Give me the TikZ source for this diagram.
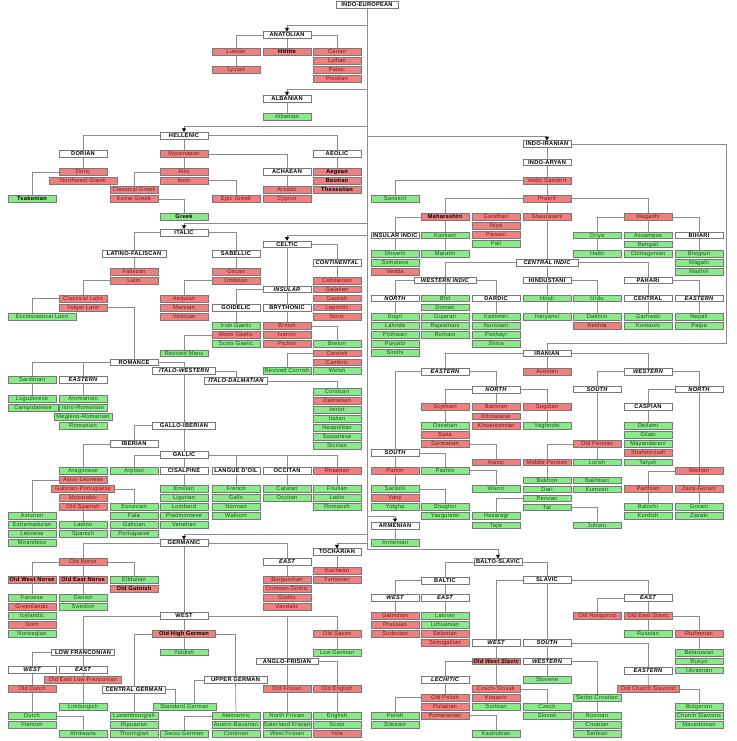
\documentclass[tikz,border=0pt]{standalone}
\usepackage{fontspec}
\setmainfont[LetterSpace=4]{Liberation Sans}
\usepackage{tikz}
\usetikzlibrary{arrows.meta,backgrounds}
\definecolor{linkgray}{RGB}{140,140,140}
\definecolor{boxline}{RGB}{120,120,120}
\definecolor{deadfill}{RGB}{240,128,128}
\definecolor{deadtext}{RGB}{128,20,20}
\definecolor{alivefill}{RGB}{136,234,136}
\definecolor{alivetext}{RGB}{20,90,20}

\tikzset{
  box/.style={draw=boxline, line width=0.6pt, rectangle, minimum width=48pt, minimum height=6.6pt, inner sep=0pt, text height=4.3pt, text depth=0.6pt, font=\fontsize{5.7}{6}\selectfont},
  hdr/.style={box, fill=white, text=black, font=\fontsize{5.7}{6}\selectfont\bfseries},
  hdri/.style={hdr, font=\fontsize{5.7}{6}\selectfont\bfseries\itshape},
  dead/.style={box, fill=deadfill, text=deadtext},
  alive/.style={box, fill=alivefill, text=alivetext},
  boldname/.style={text=black, font=\fontsize{5.7}{6}\selectfont\bfseries},
  link/.style={draw=linkgray, line width=0.7pt},
  branch/.style={link, -{Triangle[length=3.5pt, width=4pt, color=black]}},
}

\begin{document}
\begin{tikzpicture}[x=1pt, y=-1pt]
	\useasboundingbox (0,0) rectangle (736,741);
	\node[hdr, minimum width=62pt] (ie) at (367,5) {INDO-EUROPEAN};

	% Anatolian, Albanian
	\node[hdr] (anatolian) at (287,35) {ANATOLIAN};
	\node[dead] (luwian) at (236,52) {Luwian};
	\node[dead] (lycian) at (236,70) {Lycian};
	\node[dead, boldname] (hittite) at (287,52) {Hittite};
	\node[dead] (carian) at (337,52) {Carian};
	\node[dead] (lydian) at (337,61) {Lydian};
	\node[dead] (palaic) at (337,70) {Palaic};
	\node[dead] (pisidian) at (337,79) {Pisidian};
	\node[hdr] (albanianb) at (287,99) {ALBANIAN};
	\node[alive] (albanian) at (287,117) {Albanian};

	% Hellenic
	\node[hdr] (hellenic) at (184,135.5) {HELLENIC};
	\node[hdr] (dorian) at (83,154) {DORIAN};
	\node[dead] (doric) at (83,172) {Doric};
	\node[dead, minimum width=68pt] (nwgreek) at (83,180.5) {Northwest Greek};
	\node[alive, boldname] (tsakonian) at (32,199) {Tsakonian};
	\node[dead] (mycenaean) at (184,154) {Mycenaean};
	\node[dead] (attic) at (184,172) {Attic};
	\node[dead] (ionic) at (184,180.5) {Ionic};
	\node[dead] (clgreek) at (134,190) {Classical Greek};
	\node[dead] (koine) at (134,199) {Koine Greek};
	\node[dead] (epic) at (236,199) {Epic Greek};
	\node[alive, boldname] (greek) at (184,217) {Greek};
	\node[hdr] (achaean) at (287,172) {ACHAEAN};
	\node[dead] (arcado) at (287,190) {Arcado};
	\node[dead] (cypriot) at (287,199) {Cypriot};
	\node[hdr] (aeolic) at (337,154) {AEOLIC};
	\node[dead, boldname] (aegean) at (337,172) {Aegean};
	\node[dead, boldname] (beotian) at (337,181) {Beotian};
	\node[dead, boldname] (thessalian) at (337,190) {Thessalian};

	% Italic
	\node[hdr] (italic) at (184,232.5) {ITALIC};
	\node[hdr, minimum width=64pt] (latfal) at (134,254) {LATINO-FALISCAN};
	\node[dead] (faliscan) at (134,272) {Faliscan};
	\node[dead] (latin) at (134,280.5) {Latin};
	\node[dead] (cllatin) at (83,298.5) {Classical Latin};
	\node[dead] (vlatin) at (83,307.5) {Vulgar Latin};
	\node[alive, minimum width=68pt] (eccl) at (42,317) {Ecclesiastical Latin};
	\node[hdr] (sabellic) at (236,254) {SABELLIC};
	\node[dead] (oscan) at (236,272) {Oscan};
	\node[dead] (umbrian) at (236,280.5) {Umbrian};
	\node[dead] (aequian) at (184,298.5) {Aequian};
	\node[dead] (marsian) at (184,307.5) {Marsian};
	\node[dead] (volscian) at (184,316.5) {Volscian};

	% Celtic
	\node[hdr] (celtic) at (287,244.3) {CELTIC};
	\node[hdri] (continental) at (337,262.7) {CONTINENTAL};
	\node[dead] (celtiberian) at (337,280.5) {Celtiberian};
	\node[dead] (galatian) at (337,289.3) {Galatian};
	\node[dead] (gaulish) at (337,298.3) {Gaulish};
	\node[dead] (lepontic) at (337,307.3) {Lepontic};
	\node[dead] (noric) at (337,316.5) {Noric};
	\node[hdri] (insular) at (287,289.3) {INSULAR};
	\node[hdr] (goidelic) at (236,307.7) {GOIDELIC};
	\node[alive] (irish) at (236,326) {Irish Gaelic};
	\node[dead] (manx) at (236,335) {Manx Gaelic};
	\node[alive] (scots) at (236,344) {Scots Gaelic};
	\node[alive] (revmanx) at (184,353.3) {Revived Manx};
	\node[hdr] (brythonic) at (287,307.7) {BRYTHONIC};
	\node[dead] (british) at (287,326) {British};
	\node[dead] (ivernic) at (287,335) {Ivernic};
	\node[dead] (pictish) at (287,344) {Pictish};
	\node[alive] (breton) at (337,344) {Breton};
	\node[dead] (cornish) at (337,353.3) {Cornish};
	\node[dead] (cumbric) at (337,362.3) {Cumbric};
	\node[alive] (welsh) at (337,371) {Welsh};
	\node[alive] (revcornish) at (287,371) {Revived Cornish};

	% Romance
	\node[hdr] (romance) at (134,362.3) {ROMANCE};
	\node[alive] (sardinian) at (32,380) {Sardinian};
	\node[alive] (logudorese) at (32,398.5) {Logudorese};
	\node[alive, minimum width=50pt] (campidanese) at (33,407.5) {Campidanese};
	\node[hdri] (roeastern) at (83,380) {EASTERN};
	\node[alive] (aromanian) at (83,398.5) {Aromanian};
	\node[alive] (istro) at (83,407.5) {Istro-Romanian};
	\node[alive, minimum width=58pt] (megleno) at (83,416.5) {Megleno-Romanian};
	\node[alive] (romanian) at (83,425.7) {Romanian};
	\node[hdri, minimum width=63pt] (italowest) at (184,371) {ITALO-WESTERN};
	\node[hdri, minimum width=63pt] (italodalm) at (236,381) {ITALO-DALMATIAN};
	\node[alive] (corsican) at (337,392) {Corsican};
	\node[dead] (dalmatian) at (337,401) {Dalmatian};
	\node[alive] (istriot) at (337,410) {Istriot};
	\node[alive] (italian) at (337,419) {Italian};
	\node[alive] (neapolitan) at (337,428) {Neapolitan};
	\node[alive] (sassarese) at (337,437) {Sassarese};
	\node[alive] (sicilian) at (337,446) {Sicilian};
	\node[hdr, minimum width=63pt] (galloib) at (184,425.7) {GALLO-IBERIAN};
	\node[hdr] (iberian) at (134,444) {IBERIAN};
	\node[alive] (aragonese) at (83,471) {Aragonese};
	\node[dead] (asturleon) at (83,480) {Astur-Leonese};
	\node[dead, minimum width=63pt] (galport) at (83,489) {Galician-Portuguese};
	\node[dead] (mozarabic) at (83,498) {Mozarabic};
	\node[dead] (oldspanish) at (83,507) {Old Spanish};
	\node[alive] (asturian) at (32,516) {Asturian};
	\node[alive] (extremaduran) at (32,525) {Extremaduran};
	\node[alive] (leonese) at (32,534) {Leonese};
	\node[alive] (mirandese) at (32,543) {Mirandese};
	\node[alive] (ladino) at (83,525) {Ladino};
	\node[alive] (spanish) at (83,534) {Spanish};
	\node[alive] (eonavian) at (134,507) {Eonavian};
	\node[alive] (fala) at (134,516) {Fala};
	\node[alive] (galician) at (134,525) {Galician};
	\node[alive] (portuguese) at (134,534) {Portuguese};
	\node[hdr] (gallic) at (184,455) {GALLIC};
	\node[alive] (arpitan) at (134,471) {Arpitan};
	\node[hdr] (cisalpine) at (184,471) {CISALPINE};
	\node[alive] (emilian) at (184,489) {Emilian};
	\node[alive] (ligurian) at (184,498) {Ligurian};
	\node[alive] (lombard) at (184,507) {Lombard};
	\node[alive] (piedmontese) at (184,516) {Piedmontese};
	\node[alive] (venetian) at (184,525) {Venetian};
	\node[hdr] (oil) at (236,471) {LANGUE D'OÏL};
	\node[alive] (french) at (236,489) {French};
	\node[alive] (gallo) at (236,498) {Gallo};
	\node[alive] (norman) at (236,507) {Norman};
	\node[alive] (walloon) at (236,516) {Walloon};
	\node[hdr] (occitanb) at (287,471) {OCCITAN};
	\node[alive] (catalan) at (287,489) {Catalan};
	\node[alive] (occitan) at (287,498) {Occitan};
	\node[dead] (rhaetian) at (337,471) {Rhaetian};
	\node[alive] (friulian) at (337,489) {Friulian};
	\node[alive] (ladin) at (337,498) {Ladin};
	\node[alive] (romansh) at (337,507) {Romansh};

	% Germanic, Tocharian
	\node[hdr] (germanic) at (184,543) {GERMANIC};
	\node[dead] (oldnorse) at (83,562) {Old Norse};
	\node[dead, boldname] (ownorse) at (32,580) {Old West Norse};
	\node[dead, boldname] (oenorse) at (83,580) {Old East Norse};
	\node[alive] (elfdalian) at (134,580) {Elfdalian};
	\node[dead, boldname] (oldgutnish) at (134,589) {Old Gutnish};
	\node[alive] (faroese) at (32,598) {Faroese};
	\node[dead] (greenlandic) at (32,607) {Greenlandic};
	\node[alive] (icelandic) at (32,616) {Icelandic};
	\node[dead] (norn) at (32,625) {Norn};
	\node[alive] (norwegian) at (32,634) {Norwegian};
	\node[alive] (danish) at (83,598) {Danish};
	\node[alive] (swedish) at (83,607) {Swedish};
	\node[hdri] (geast) at (287,562) {EAST};
	\node[dead] (burgundian) at (287,580) {Burgundian};
	\node[dead] (crimgothic) at (287,589) {Crimean Gothic};
	\node[dead] (gothic) at (287,598) {Gothic};
	\node[dead] (vandalic) at (287,607) {Vandalic};
	\node[hdr] (tocharian) at (337,552) {TOCHARIAN};
	\node[dead] (kuchean) at (337,570.5) {Kuchean};
	\node[dead] (turfanian) at (337,579.5) {Turfanian};
	\node[hdr] (gwest) at (184,616) {WEST};
	\node[hdr, minimum width=63pt] (lowfranc) at (83,652.3) {LOW FRANCONIAN};
	\node[hdri] (lfwest) at (32,670) {WEST};
	\node[hdri] (lfeast) at (83,670) {EAST};
	\node[dead] (olddutch) at (32,689) {Old Dutch};
	\node[alive] (dutch) at (32,716) {Dutch};
	\node[alive] (flemish) at (32,725) {Flemish};
	\node[alive] (afrikaans) at (83,734) {Afrikaans};
	\node[dead, minimum width=77pt] (oelf) at (83,680) {Old East Low Franconian};
	\node[alive] (limburgish) at (83,707) {Limburgish};
	\node[dead, boldname, minimum width=63pt] (ohg) at (184,634) {Old High German};
	\node[alive] (yiddish) at (184,652.3) {Yiddish};
	\node[hdr, minimum width=63pt] (cgerman) at (134,689.7) {CENTRAL GERMAN};
	\node[alive] (luxembourgish) at (134,716) {Luxembourgish};
	\node[alive] (ripuarian) at (134,725) {Ripuarian};
	\node[alive] (thuringian) at (134,734) {Thuringian};
	\node[alive, minimum width=63pt] (stdgerman) at (184.5,707) {Standard German};
	\node[hdr, minimum width=63pt] (ugerman) at (235.5,680) {UPPER GERMAN};
	\node[alive] (alemannic) at (236,716) {Alemannic};
	\node[alive] (austrobav) at (236,725) {Austro-Bavarian};
	\node[alive] (cimbrian) at (236,734) {Cimbrian};
	\node[alive] (swissgerman) at (184,734) {Swiss German};
	\node[dead] (oldsaxon) at (337,634) {Old Saxon};
	\node[alive] (lowgerman) at (337,652.5) {Low German};
	\node[hdr, minimum width=62pt] (anglofris) at (287,661.3) {ANGLO-FRISIAN};
	\node[dead] (oldfrisian) at (287,689) {Old Frisian};
	\node[dead] (oldenglish) at (337,689) {Old English};
	\node[alive] (nfrisian) at (287,716) {North Frisian};
	\node[alive] (sfrisian) at (287,725) {Saterland Frisian};
	\node[alive] (wfrisian) at (287,734) {West Frisian};
	\node[alive] (english) at (337,716) {English};
	\node[alive] (scotslang) at (337,725) {Scots};
	\node[dead] (yola) at (337,734) {Yola};

	% Armenian
	\node[hdr] (armenianb) at (395,525.7) {ARMENIAN};
	\node[alive] (armenian) at (395,543) {Armenian};

	% Balto-Slavic
	\node[hdr] (baltoslavic) at (498,562) {BALTO-SLAVIC};
	\node[hdr] (baltic) at (445,580.5) {BALTIC};
	\node[hdri] (bwest) at (395,598) {WEST};
	\node[hdri] (beast) at (445,598) {EAST};
	\node[dead] (galindian) at (395,616) {Galindian};
	\node[dead] (prussian) at (395,625) {Prussian};
	\node[dead] (sudovian) at (395,634) {Sudovian};
	\node[alive] (latvian) at (445,616) {Latvian};
	\node[alive] (lithuanian) at (445,625) {Lithuanian};
	\node[dead] (selonian) at (445,634) {Selonian};
	\node[dead] (semigallian) at (445,643) {Semigallian};
	\node[hdr] (slavic) at (547,580) {SLAVIC};
	\node[hdri] (swest) at (496,643) {WEST};
	\node[dead, font=\fontsize{5.7}{6}\selectfont\bfseries\itshape, text=black] (oldwslavic) at (496,661.3) {Old West Slavic};
	\node[hdri] (lechitic) at (445,679.7) {LECHITIC};
	\node[dead] (oldpolish) at (445,697.7) {Old Polish};
	\node[dead] (polabian) at (445,706.7) {Polabian};
	\node[dead] (pomeranian) at (445,715.7) {Pomeranian};
	\node[alive] (polish) at (395,716) {Polish};
	\node[alive] (silesian) at (395,725) {Silesian};
	\node[alive] (kashubian) at (496,734) {Kashubian};
	\node[dead] (czechslovak) at (496,689) {Czech-Slovak};
	\node[dead] (knaanic) at (496,698) {Knaanic};
	\node[alive] (sorbian) at (496,707) {Sorbian};
	\node[alive] (czech) at (547,707) {Czech};
	\node[alive] (slovak) at (547,716) {Slovak};
	\node[hdri] (ssouth) at (547,643) {SOUTH};
	\node[hdri] (swestern) at (547,661.3) {WESTERN};
	\node[alive] (slovene) at (547,680) {Slovene};
	\node[alive] (serbocroatian) at (597,698) {Serbo-Croatian};
	\node[alive] (bosnian) at (597,716) {Bosnian};
	\node[alive] (croatian) at (597,725) {Croatian};
	\node[alive] (serbian) at (597,734) {Serbian};
	\node[hdri] (seastern) at (648,670.5) {EASTERN};
	\node[dead, minimum width=62pt] (ocs) at (648.5,689) {Old Church Slavonic};
	\node[alive] (bulgarian) at (699,707) {Bulgarian};
	\node[alive] (chslavonic) at (699,716) {Church Slavonic};
	\node[alive] (macedonian) at (699,725) {Macedonian};
	\node[hdri] (seast) at (648,598) {EAST};
	\node[dead] (novgorod) at (597,616) {Old Novgorod};
	\node[dead] (oeslavic) at (648,616) {Old East Slavic};
	\node[alive] (russian) at (648,634) {Russian};
	\node[dead] (ruthenian) at (699,634) {Ruthenian};
	\node[alive] (belarusian) at (699,652.5) {Belarusian};
	\node[alive] (rusyn) at (699,661.3) {Rusyn};
	\node[alive] (ukrainian) at (699,670.3) {Ukrainian};

	% Indo-Aryan
	\node[hdr] (indoiranian) at (547,144) {INDO-IRANIAN};
	\node[hdr] (indoaryan) at (547,162.3) {INDO-ARYAN};
	\node[dead] (vedic) at (547,180.7) {Vedic Sanskrit};
	\node[alive] (sanskrit) at (395,198.7) {Sanskrit};
	\node[dead] (prakrit) at (547,198.7) {Prakrit};
	\node[dead, boldname] (maharashtri) at (445,217) {Maharashtri};
	\node[hdr] (insularindic) at (395,235.3) {INSULAR INDIC};
	\node[alive] (dhivehi) at (395,253.7) {Dhivehi};
	\node[alive] (sinhalese) at (395,262.7) {Sinhalese};
	\node[dead] (vedda) at (395,271.7) {Vedda};
	\node[alive] (konkani) at (445,235.3) {Konkani};
	\node[alive] (marathi) at (445,253.7) {Marathi};
	\node[dead] (gandhari) at (496,217) {Gandhari};
	\node[dead] (niya) at (496,226) {Niya};
	\node[dead] (paisaci) at (496,235) {Paisaci};
	\node[alive] (pali) at (496,244) {Pali};
	\node[dead] (shauraseni) at (547,217) {Shauraseni};
	\node[dead] (magadhi) at (648,217) {Magadhi};
	\node[alive] (oriya) at (597,235.3) {Oriya};
	\node[alive] (halbi) at (597,253.7) {Halbi};
	\node[alive] (assamese) at (648,235.3) {Assamese};
	\node[alive] (bengali) at (648,244.3) {Bengali};
	\node[alive] (chittagonian) at (648,253.7) {Chittagonian};
	\node[hdr] (bihari) at (699,235.3) {BIHARI};
	\node[alive] (bhojpuri) at (699,253.7) {Bhojpuri};
	\node[alive] (magahi) at (699,262.7) {Magahi};
	\node[alive] (maithili) at (699,271.7) {Maithili};
	\node[hdri, minimum width=62pt] (centralindic) at (547,262.7) {CENTRAL INDIC};
	\node[hdri, minimum width=62pt] (westindic) at (445,280.3) {WESTERN INDIC};
	\node[hdri] (wnorth) at (395,298.3) {NORTH};
	\node[alive] (dogri) at (395,316.7) {Dogri};
	\node[alive] (lahnda) at (395,325.7) {Lahnda};
	\node[alive] (pothwari) at (395,334.7) {Pothwari};
	\node[alive] (punjabi) at (395,343.7) {Punjabi};
	\node[alive] (sindhi) at (395,352.7) {Sindhi};
	\node[alive] (bhil) at (445,298.3) {Bhil};
	\node[alive] (domari) at (445,307.3) {Domari};
	\node[alive] (gujarati) at (445,316.5) {Gujarati};
	\node[alive] (rajasthani) at (445,325.5) {Rajasthani};
	\node[alive] (romani) at (445,334.7) {Romani};
	\node[hdr] (dardic) at (496,298.3) {DARDIC};
	\node[alive] (kashmiri) at (496,316.7) {Kashmiri};
	\node[alive] (nuristani) at (496,325.7) {Nuristani};
	\node[alive] (pashayi) at (496,334.7) {Pashayi};
	\node[alive] (shina) at (496,343.7) {Shina};
	\node[hdr] (hindustani) at (547,280.3) {HINDUSTANI};
	\node[alive] (hindi) at (547,298.3) {Hindi};
	\node[alive] (haryanvi) at (547,316.7) {Haryanvi};
	\node[alive] (urdu) at (597,298.3) {Urdu};
	\node[alive] (dakhini) at (597,316.7) {Dakhini};
	\node[dead] (rekhta) at (597,325.7) {Rekhta};
	\node[hdr] (pahari) at (648,280.3) {PAHARI};
	\node[hdr] (pcentral) at (648,298.3) {CENTRAL};
	\node[alive] (garhwali) at (648,316.7) {Garhwali};
	\node[alive] (kumaoni) at (648,325.7) {Kumaoni};
	\node[hdri] (peastern) at (699,298.3) {EASTERN};
	\node[alive] (nepali) at (699,316.7) {Nepali};
	\node[alive] (palpa) at (699,325.7) {Palpa};

	% Iranian
	\node[hdr] (iranian) at (547,353.3) {IRANIAN};
	\node[hdri] (ieastern) at (445,371.7) {EASTERN};
	\node[dead] (avestan) at (547,371.7) {Avestan};
	\node[hdri] (iwestern) at (648,371.7) {WESTERN};
	\node[hdri] (inorth) at (496,389.5) {NORTH};
	\node[dead] (scythian) at (445,407) {Scythian};
	\node[alive] (ossetian) at (445,425.7) {Ossetian};
	\node[dead] (saka) at (445,434.7) {Saka};
	\node[dead] (sarmatian) at (445,444) {Sarmatian};
	\node[dead] (bactrian) at (496,407) {Bactrian};
	\node[dead] (khotanese) at (496,416.3) {Khotanese};
	\node[dead] (khwarezmian) at (496,425.7) {Khwarezmian};
	\node[dead] (sogdian) at (547,407) {Sogdian};
	\node[alive] (yaghnobi) at (547,425.7) {Yaghnobi};
	\node[dead] (alanic) at (496,462.3) {Alanic};
	\node[hdri] (isouth) at (395,453) {SOUTH};
	\node[dead] (pamiri) at (395,470.7) {Pamiri};
	\node[alive] (sarikoli) at (395,489) {Sarikoli};
	\node[dead] (vanji) at (395,498) {Vanji};
	\node[alive] (yidgha) at (395,507) {Yidgha};
	\node[alive] (pashto) at (445,470.7) {Pashto};
	\node[alive] (shughni) at (445,507) {Shughni};
	\node[alive] (yazgulami) at (445,516) {Yazgulami};
	\node[alive] (waziri) at (496,489) {Waziri};
	\node[hdri] (wsouth) at (597,389.3) {SOUTH};
	\node[hdri] (wnorthi) at (699,389.3) {NORTH};
	\node[dead] (oldpersian) at (597,444) {Old Persian};
	\node[dead] (midpersian) at (547,462.3) {Middle Persian};
	\node[alive] (bukhori) at (547,480.3) {Bukhori};
	\node[alive] (dari) at (547,489.3) {Dari};
	\node[alive] (persian) at (547,498.3) {Persian};
	\node[alive] (tat) at (547,507.3) {Tat};
	\node[alive] (hazaragi) at (496,516) {Hazaragi};
	\node[alive] (tajik) at (496,525.3) {Tajik};
	\node[alive] (juhuru) at (597,525.3) {Juhuru};
	\node[alive] (lurish) at (597,462.3) {Lurish};
	\node[alive] (bakhtiari) at (597,480.3) {Bakhtiari};
	\node[alive] (kumzari) at (597,489.3) {Kumzari};
	\node[hdr] (caspian) at (648,407) {CASPIAN};
	\node[alive] (deilami) at (648,425.7) {Deilami};
	\node[alive] (gilaki) at (648,434.7) {Gilaki};
	\node[alive] (mazanderani) at (648,444) {Mazanderani};
	\node[dead] (shahmirzadi) at (648,453) {Shahmirzadi};
	\node[alive] (talysh) at (648,462.3) {Talysh};
	\node[dead] (median) at (699,471) {Median};
	\node[dead] (parthian) at (648,489) {Parthian};
	\node[alive] (balochi) at (648,507) {Balochi};
	\node[alive] (kurdish) at (648,516) {Kurdish};
	\node[dead] (zazagorani) at (699,489) {Zaza-Gorani};
	\node[alive] (gorani) at (699,507) {Gorani};
	\node[alive] (zazaki) at (699,516) {Zazaki};

	\coordinate (tanat) at (367,25);
	\coordinate (talb) at (367,89);
	\coordinate (thell) at (367,126.7);
	\coordinate (tindo) at (367,136);
	\coordinate (tital) at (367,223);
	\coordinate (tcelt) at (367,235);
	\coordinate (tarm) at (367,516);
	\coordinate (tgerm) at (367,534);
	\coordinate (ttoch) at (367,543);
	\coordinate (tbalto) at (367,549);
	\coordinate (iturn) at (726,343);

	\begin{scope}[on background layer]
	\fill[white] (0,0) rectangle (736,741);
	% trunk
	\draw[branch] (ie) -- (tbalto) -| (baltoslavic);
	\draw[branch] (tanat) -| (anatolian);
	\draw[branch] (talb) -| (albanianb);
	\draw[branch] (thell) -| (hellenic);
	\draw[branch] (tindo) -| (indoiranian);
	\draw[branch] (tital) -| (italic);
	\draw[branch] (tcelt) -| (celtic);
	\draw[branch] (tarm) -| (armenianb);
	\draw[branch] (tgerm) -| (germanic);
	\draw[branch] (ttoch) -| (tocharian);

	\draw[link] (anatolian) -| (luwian);
	\draw[link] (luwian) -- (lycian);
	\draw[link] (anatolian) -- (hittite);
	\draw[link] (anatolian) -| (carian);
	\draw[link] (albanianb) -- (albanian);

	\draw[link] (hellenic) -| (dorian);
	\draw[link] (dorian) -- (doric);
	\draw[link] (doric) -| (tsakonian);
	\draw[link] (hellenic) -- (mycenaean);
	\draw[link] (mycenaean) -- (attic);
	\draw[link] (attic) -| (clgreek);
	\draw[link] (ionic) -| (epic);
	\draw[link] (koine) -| (greek);
	\draw[link] (mycenaean) -| (achaean);
	\draw[link] (achaean) -- (arcado);
	\draw[link] (hellenic) -| (aeolic);
	\draw[link] (aeolic) -- (aegean);

	\draw[link] (italic) -| (latfal);
	\draw[link] (italic) -| (sabellic);
	\draw[link] (latfal) -- (faliscan);
	\draw[link] (latin) -| (cllatin);
	\draw[link] (cllatin) -| ([xshift=-10pt]eccl.north);
	\draw[link] (vlatin) -| (romance);
	\draw[link] (sabellic) -- (oscan);
	\draw[link] (umbrian) -| (aequian);

	\draw[link] (celtic) -| (continental);
	\draw[link] (continental) -- (celtiberian);
	\draw[link] (celtic) -- (insular);
	\draw[link] (insular) -| (goidelic);
	\draw[link] (insular) -- (brythonic);
	\draw[link] (goidelic) -- (irish);
	\draw[link] (manx) -| (revmanx);
	\draw[link] (brythonic) -- (british);
	\draw[link] (british) -| (breton);
	\draw[link] (cornish) -| (revcornish);

	\draw[link] (romance) -| (sardinian);
	\draw[link] (romance) -| (roeastern);
	\draw[link] (sardinian) -- (logudorese);
	\draw[link] (roeastern) -- (aromanian);
	\draw[link] (romance) -| (italowest);
	\draw[link] (italowest) -| (italodalm);
	\draw[link] (italodalm) -| (corsican);
	\draw[link] (italowest) -- (galloib);
	\draw[link] (galloib) -| (iberian);
	\draw[link] (galloib) -- (gallic);
	\draw[link] (iberian) -| (aragonese);
	\draw[link] (asturleon) -| (asturian);
	\draw[link] (galport) -| (eonavian);
	\draw[link] (oldspanish) -- (ladino);
	\draw[link] (gallic) -| (arpitan);
	\draw[link] (gallic) -- (cisalpine);
	\draw[link] (cisalpine) -- (emilian);
	\draw[link] (gallic) -| (oil);
	\draw[link] (oil) -- (french);
	\draw[link] (gallic) -| (occitanb);
	\draw[link] (occitanb) -- (catalan);
	\draw[link] (gallic) -| (rhaetian);
	\draw[link] (rhaetian) -- (friulian);

	\draw[link] (germanic) -| (oldnorse);
	\draw[link] (oldnorse) -| (ownorse);
	\draw[link] (oldnorse) -- (oenorse);
	\draw[link] (oldnorse) -| (elfdalian);
	\draw[link] (ownorse) -- (faroese);
	\draw[link] (oenorse) -- (danish);
	\draw[link] (germanic) -- (gwest);
	\draw[link] (germanic) -| (geast);
	\draw[link] (geast) -- (burgundian);
	\draw[link] (tocharian) -- (kuchean);
	\draw[link] (gwest) -| (lowfranc);
	\draw[link] (gwest) -- (ohg);
	\draw[link] (gwest) -| (oldsaxon);
	\draw[link] (gwest) -| (anglofris);
	\draw[link] (oldsaxon) -- (lowgerman);
	\draw[link] (ohg) -- (yiddish);
	\draw[link] (ohg) -| (cgerman);
	\draw[link] (cgerman) -- (luxembourgish);
	\draw[link] (cgerman) -| ([xshift=-9.5pt]stdgerman.north);
	\draw[link] (ohg) -| (ugerman);
	\draw[link] (ugerman) -| ([xshift=9.5pt]stdgerman.north);
	\draw[link] (ugerman) -- (alemannic);
	\draw[link] (alemannic) -| (swissgerman);
	\draw[link] (lowfranc) -| (lfwest);
	\draw[link] (lowfranc) -- (lfeast);
	\draw[link] (lfwest) -- (olddutch);
	\draw[link] (olddutch) -- (dutch);
	\draw[link] (dutch) -| (afrikaans);
	\draw[link] (lfeast) -- (oelf);
	\draw[link] (oelf) -- (limburgish);
	\draw[link] (anglofris) -- (oldfrisian);
	\draw[link] (anglofris) -| (oldenglish);
	\draw[link] (oldfrisian) -- (nfrisian);
	\draw[link] (oldenglish) -- (english);

	\draw[link] (armenianb) -- (armenian);

	\draw[link] (baltoslavic) -| (baltic);
	\draw[link] (baltoslavic) -| (slavic);
	\draw[link] (baltic) -| (bwest);
	\draw[link] (baltic) -- (beast);
	\draw[link] (bwest) -- (galindian);
	\draw[link] (beast) -- (latvian);
	\draw[link] (slavic) -| (swest);
	\draw[link] (slavic) -- (ssouth);
	\draw[link] (slavic) -| (seast);
	\draw[link] (seast) -| (novgorod);
	\draw[link] (seast) -- (oeslavic);
	\draw[link] (oeslavic) -- (russian);
	\draw[link] (oeslavic) -| (ruthenian);
	\draw[link] (ruthenian) -- (belarusian);
	\draw[link] (swest) -- (oldwslavic);
	\draw[link] (oldwslavic) -| (lechitic);
	\draw[link] (oldwslavic) -- (czechslovak);
	\draw[link] (czechslovak) -| (czech);
	\draw[link] (lechitic) -- (oldpolish);
	\draw[link] (oldpolish) -| (polish);
	\draw[link] (pomeranian) -| (kashubian);
	\draw[link] (ssouth) -- (swestern);
	\draw[link] (ssouth) -| (seastern);
	\draw[link] (swestern) -- (slovene);
	\draw[link] (swestern) -| (serbocroatian);
	\draw[link] (serbocroatian) -- (bosnian);
	\draw[link] (seastern) -- (ocs);
	\draw[link] (ocs) -| (bulgarian);

	\draw[link] (indoiranian) -- (indoaryan);
	\draw[link] (indoaryan) -- (vedic);
	\draw[link] (vedic) -| (sanskrit);
	\draw[link] (vedic) -- (prakrit);
	\draw[link] (prakrit) -| (maharashtri);
	\draw[link] (prakrit) -- (shauraseni);
	\draw[link] (prakrit) -| (magadhi);
	\draw[link] (maharashtri) -| (insularindic);
	\draw[link] (maharashtri) -- (marathi);
	\draw[link] (insularindic) -- (dhivehi);
	\draw[link] (shauraseni) -- (centralindic);
	\draw[link] (centralindic) -| (westindic);
	\draw[link] (centralindic) -- (hindustani);
	\draw[link] (centralindic) -| (pahari);
	\draw[link] (magadhi) -| (oriya);
	\draw[link] (oriya) -- (halbi);
	\draw[link] (magadhi) -- (assamese);
	\draw[link] (magadhi) -| (bihari);
	\draw[link] (bihari) -- (bhojpuri);
	\draw[link] (westindic) -| (wnorth);
	\draw[link] (westindic) -- (bhil);
	\draw[link] (westindic) -| (dardic);
	\draw[link] (wnorth) -- (dogri);
	\draw[link] (dardic) -- (kashmiri);
	\draw[link] (hindustani) -- (hindi);
	\draw[link] (hindustani) -| (urdu);
	\draw[link] (hindi) -- (haryanvi);
	\draw[link] (urdu) -- (dakhini);
	\draw[link] (pahari) -- (pcentral);
	\draw[link] (pahari) -| (peastern);
	\draw[link] (pcentral) -- (garhwali);
	\draw[link] (peastern) -- (nepali);

	\draw[link] (indoiranian) -| (iturn) -| (iranian);
	\draw[link] (iranian) -| (ieastern);
	\draw[link] (iranian) -- (avestan);
	\draw[link] (iranian) -| (iwestern);
	\draw[link] (ieastern) -| (isouth);
	\draw[link] (ieastern) -| (inorth);
	\draw[link] (inorth) -| (scythian);
	\draw[link] (scythian) -- (ossetian);
	\draw[link] (inorth) -- (bactrian);
	\draw[link] (inorth) -| (sogdian);
	\draw[link] (sogdian) -- (yaghnobi);
	\draw[link] (sarmatian) -| (alanic);
	\draw[link] (isouth) -| (pashto);
	\draw[link] (isouth) -- (pamiri);
	\draw[link] (pamiri) -- (sarikoli);
	\draw[link] (sarikoli) -| (shughni);
	\draw[link] (pashto) -| (waziri);
	\draw[link] (iwestern) -| (wsouth);
	\draw[link] (iwestern) -| (wnorthi);
	\draw[link] (wsouth) -- (oldpersian);
	\draw[link] (oldpersian) -| (midpersian);
	\draw[link] (midpersian) -- (bukhori);
	\draw[link] (persian) -| (hazaragi);
	\draw[link] (tat) -| (juhuru);
	\draw[link] (oldpersian) -- (lurish);
	\draw[link] (wnorthi) -| (caspian);
	\draw[link] (caspian) -- (deilami);
	\draw[link] (wnorthi) -- (median);
	\draw[link] (median) -| (parthian);
	\draw[link] (parthian) -- (balochi);
	\draw[link] (median) -- (zazagorani);
	\draw[link] (zazagorani) -- (gorani);
	\end{scope}
\end{tikzpicture}
\end{document}
